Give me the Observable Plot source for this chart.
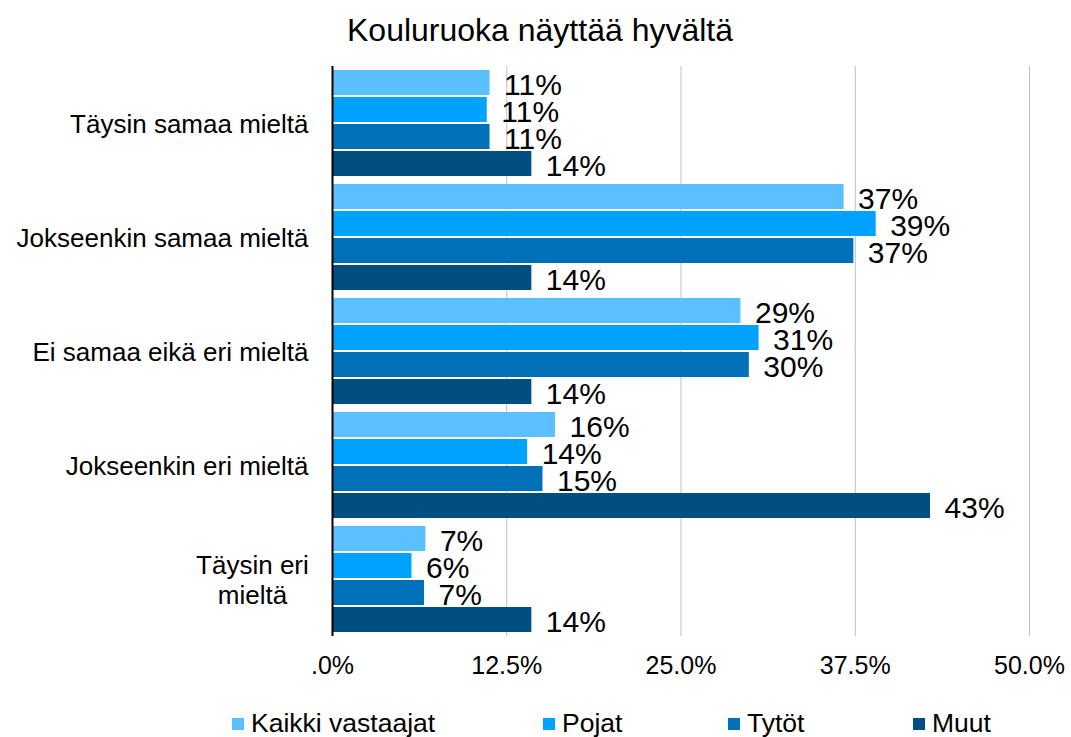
<!DOCTYPE html>
<html>
<head>
<meta charset="utf-8">
<script src="https://cdn.jsdelivr.net/npm/d3@7"></script>
<script src="https://cdn.jsdelivr.net/npm/@observablehq/plot@0.6"></script>
<style>
  body { margin: 0; background: #fff; font-family: "Liberation Sans", Arial, sans-serif; }
  #title { width: 1071px; height: 60px; line-height: 60px; text-align: center; font-size: 32px; color: #000; padding-left: 9px; box-sizing: border-box; }
  #legend { display: flex; align-items: center; margin-left: 232px; margin-top: 22px; font-size: 26.5px; color: #000; }
  .item { display: flex; align-items: center; gap: 7px; flex: none; }
  .sw { width: 12px; height: 12px; flex: none; }
</style>
</head>
<body>
<div id="title">Kouluruoka näyttää hyvältä</div>
<div id="chart"></div>
<div id="legend"></div>
<script>
const categories = ["Täysin samaa mieltä", "Jokseenkin samaa mieltä", "Ei samaa eikä eri mieltä", "Jokseenkin eri mieltä", "Täysin eri\nmieltä"];
const seriesNames = ["Kaikki vastaajat", "Pojat", "Tytöt", "Muut"];
const kaikki = [11.3, 36.7, 29.3, 16.0, 6.7];
const pojat  = [11.1, 39.0, 30.6, 14.0, 5.7];
const tytot  = [11.3, 37.4, 29.9, 15.1, 6.6];
const muut   = [14.3, 14.3, 14.3, 42.9, 14.3];
const colors = ["#5bc0ff", "#00a2ff", "#0070b8", "#004f80"];
const xTicks = [0, 12.5, 25, 37.5, 50];

const seriesValues = [kaikki, pojat, tytot, muut];
const data = [];
categories.forEach((c, i) => {
  seriesNames.forEach((s, j) => data.push({category: c, series: s, value: seriesValues[j][i]}));
});

const chart = Plot.plot({
  width: 1071,
  height: 626,
  marginLeft: 332,
  marginRight: 42,
  marginTop: 5,
  marginBottom: 50,
  style: {fontFamily: "'Liberation Sans', Arial, sans-serif", color: "#000", background: "#fff"},
  x: {domain: [0, 50], ticks: xTicks},
  y: {domain: seriesNames, axis: null, paddingInner: 0.07, paddingOuter: 0.13},
  fy: {domain: categories, padding: 0},
  color: {domain: seriesNames, range: colors},
  marks: [
    Plot.gridX(xTicks, {stroke: "#bfbfbf", strokeOpacity: 1, strokeWidth: 1}),
    Plot.barX(data, {x: "value", y: "series", fy: "category", fill: "series"}),
    Plot.ruleX([0], {stroke: "#000", strokeWidth: 2}),
    Plot.text(data, {x: "value", y: "series", fy: "category", text: d => Math.round(d.value) + "%", textAnchor: "start", dx: 14, dy: 2, fontSize: 30, fill: "#000"}),
    Plot.axisX(xTicks, {anchor: "bottom", tickSize: 0, tickPadding: 20, fontSize: 25, tickFormat: d => d === 0 ? ".0%" : d.toFixed(1) + "%", label: null}),
    Plot.axisFy({anchor: "left", tickSize: 0, tickPadding: 24, fontSize: 26, label: null, lineHeight: 1.15})
  ]
});
document.getElementById("chart").appendChild(chart);

// center-align multi-line category labels within their block
chart.querySelectorAll("text").forEach(t => {
  const spans = t.querySelectorAll("tspan");
  if (spans.length > 1) {
    const bb = t.getBBox();
    t.setAttribute("text-anchor", "middle");
    spans.forEach(s => s.setAttribute("x", bb.x + bb.width / 2));
  }
});

const itemWidths = [311, 185, 185, null];
const legend = document.getElementById("legend");
seriesNames.forEach((s, i) => {
  const item = document.createElement("div");
  item.className = "item";
  if (itemWidths[i]) item.style.width = itemWidths[i] + "px";
  const sw = document.createElement("div");
  sw.className = "sw";
  sw.style.background = colors[i];
  const lab = document.createElement("span");
  lab.textContent = s;
  item.appendChild(sw);
  item.appendChild(lab);
  legend.appendChild(item);
});
</script>
</body>
</html>
